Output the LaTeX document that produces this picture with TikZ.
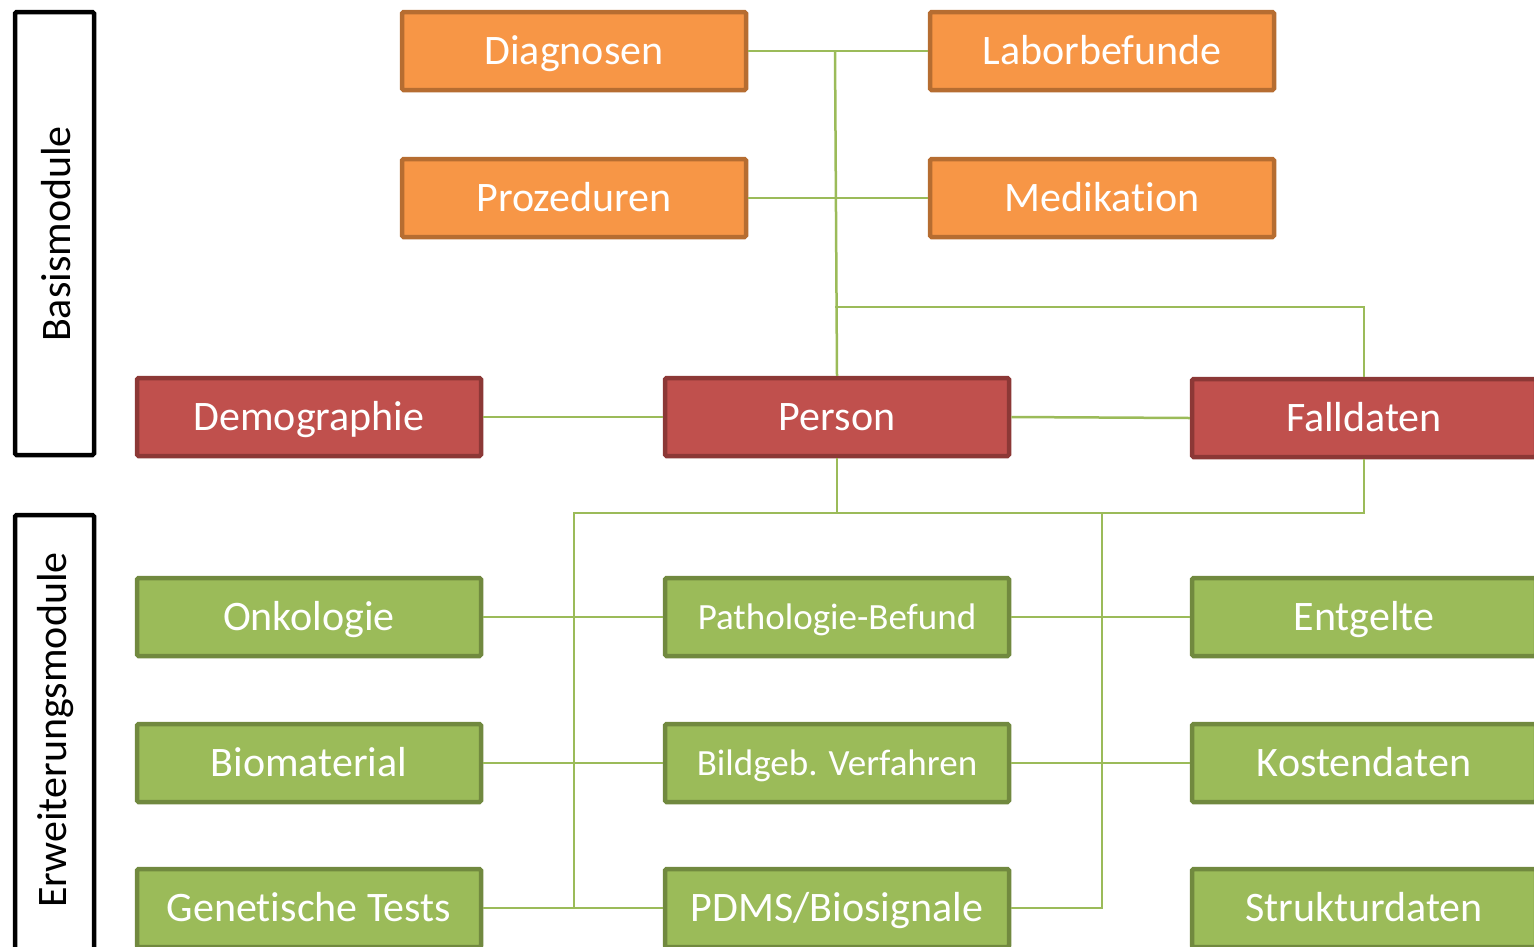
\documentclass[tikz,border=0pt]{standalone}
\usepackage{fontspec}
\setmainfont{Carlito}[Ligatures=NoCommon]
\usepackage{tikz}

\definecolor{orfill}{HTML}{F79646}
\definecolor{ordraw}{HTML}{B66D31}
\definecolor{rdfill}{HTML}{C0504D}
\definecolor{rddraw}{HTML}{8C3836}
\definecolor{grfill}{HTML}{9BBB59}
\definecolor{grdraw}{HTML}{71893F}

\tikzset{
	modbox/.style={rectangle, rounded corners=1.5pt, line width=4.5pt, minimum width=344pt,
		minimum height=78pt, text=white, text height=27pt, text depth=0pt,
		font=\fontsize{42}{44}\selectfont},
	basis/.style={modbox, fill=orfill, draw=ordraw},
	kern/.style={modbox, fill=rdfill, draw=rddraw},
	erw/.style={modbox, fill=grfill, draw=grdraw},
	small/.style={font=\fontsize{37}{39}\selectfont, text height=24pt},
	link/.style={draw=grfill, line width=2.5pt},
	group/.style={draw=black, line width=4.5pt, rounded corners=1.5pt}
}

\begin{document}
\begin{tikzpicture}[x=1pt, y=-1pt]
		\useasboundingbox (0,0) rectangle (1534,946);
		\draw[group] (15,12) rectangle (94,455);
		\draw[group] (15,515) rectangle (94,980);
		\node[rotate=90, font=\fontsize{42}{44}\selectfont] (lbasis) at (56,234) {Basismodule};
		\node[rotate=90, font=\fontsize{42}{44}\selectfont] (lerw) at (56,730) {Erweiterungsmodule};

		\node[basis] (diag) at (574,51) {Diagnosen};
		\node[basis] (labor) at (1102,51) {Laborbefunde};
		\node[basis] (proz) at (574,198) {Prozeduren};
		\node[basis] (medi) at (1102,198) {Medikation};

		\node[kern] (demo) at (309,417) {Demographie};
		\node[kern] (person) at (837,417) {Person};
		\node[kern] (fall) at (1364,418) {Falldaten};

		\node[erw] (onko) at (309,617) {Onkologie};
		\node[erw, small] (patho) at (837,617) {Pathologie-Befund};
		\node[erw] (entg) at (1364,617) {Entgelte};
		\node[erw] (bio) at (309,763) {Biomaterial};
		\node[erw, small] (bild) at (837,763) {Bildgeb. Verfahren};
		\node[erw] (kost) at (1364,763) {Kostendaten};
		\node[erw] (gen) at (309,908) {Genetische Tests};
		\node[erw] (pdms) at (837,908) {PDMS/Biosignale};
		\node[erw] (struk) at (1364,908) {Strukturdaten};

		\coordinate (top) at (835,307);
		\coordinate (bl) at (574,513);
		\coordinate (br) at (1102,513);

		\draw[link] (diag) -- (labor);
		\draw[link] (proz) -- (medi);
		\draw[link] (diag.east -| top) -- (person.north);
		\draw[link] (top) -| (fall.north);
		\draw[link] (demo) -- (person);
		\draw[link] (person.east) -- (fall.west);
		\draw[link] (person.south) -- (person.south |- bl);
		\draw[link] (fall.south) |- (bl) -- (bl |- gen.east);
		\draw[link] (br) -- (br |- pdms.east) -- (pdms.east);
		\draw[link] (onko) -- (patho);
		\draw[link] (patho) -- (entg);
		\draw[link] (bio) -- (bild);
		\draw[link] (bild) -- (kost);
		\draw[link] (gen) -- (pdms);
	\end{tikzpicture}
\end{document}
